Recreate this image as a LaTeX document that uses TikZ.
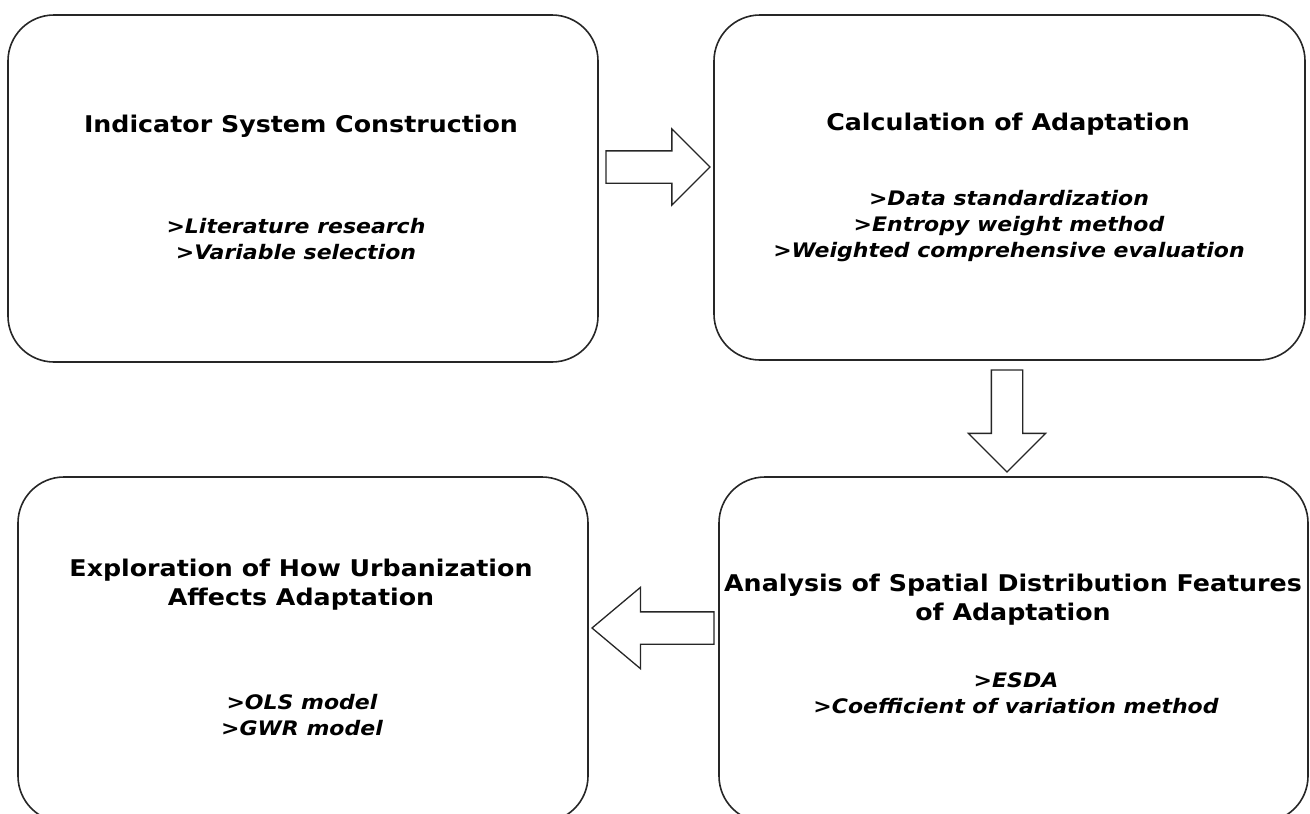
\documentclass[tikz,border=0pt]{standalone}
\usepackage{fontspec}
\setmainfont{DejaVu Sans}[FakeStretch=1.1]
\usetikzlibrary{shapes.arrows}

\begin{document}
\begin{tikzpicture}[x=1pt, y=-1pt,
    stage/.style ={draw=black!85, line width=1.6pt, rounded corners=46pt,
                   inner sep=0pt, outer sep=0pt},
    heading/.style ={font=\fontsize{23}{29}\selectfont\bfseries, align=center},
    items/.style ={font=\fontsize{20}{26}\selectfont\bfseries\itshape, align=center},
    blockarrow/.style ={single arrow, draw=black!85, line width=1.3pt, fill=white,
                        inner xsep=0pt, inner ysep=15.5pt, outer sep=0pt, anchor=tail}]
   \useasboundingbox (0,0) rectangle (1310,814);
   \clip (0,0) rectangle (1310,814);
   % the four stages
   \node[stage, minimum width=590pt, minimum height=347pt] (indicator) at (303,188.5) {};
   \node[stage, minimum width=591pt, minimum height=345pt] (calc) at (1009.5,187.5) {};
   \node[stage, minimum width=589pt, minimum height=345pt] (spatial) at (1013.5,649.5) {};
   \node[stage, minimum width=570pt, minimum height=345pt] (explore) at (303,649.5) {};
   % texts
   \node[heading] (indicatorT) at (301,126) {Indicator System Construction};
   \node[items] (indicatorI) at (296,239) {>Literature research\\>Variable selection};
   \node[heading] (calcT) at (1008,124) {Calculation of Adaptation};
   \node[items] (calcI) at (1009,226) {>Data standardization\\>Entropy weight method\\>Weighted comprehensive evaluation};
   \node[heading] (spatialT) at (1013,600) {Analysis of Spatial Distribution Features\\of Adaptation};
   \node[items] (spatialI) at (1016,693) {>ESDA\\>Coefficient of variation method};
   \node[heading] (exploreT) at (301,585) {Exploration of How Urbanization\\Affects Adaptation};
   \node[items] (exploreI) at (302,715) {>OLS model\\>GWR model};
   % block arrows between stages
   \node[blockarrow, minimum height=104pt,
         single arrow head extend=22pt] (step1) at (606,167) {};
   \node[blockarrow, minimum height=102pt, inner ysep=15pt,
         single arrow head extend=23pt, rotate=-90] (step2) at (1007,370) {};
   \node[blockarrow, minimum height=122pt,
         single arrow head extend=24.5pt, single arrow tip angle=80,
         rotate=180] (step3) at (714,628) {};
 \end{tikzpicture}
\end{document}
